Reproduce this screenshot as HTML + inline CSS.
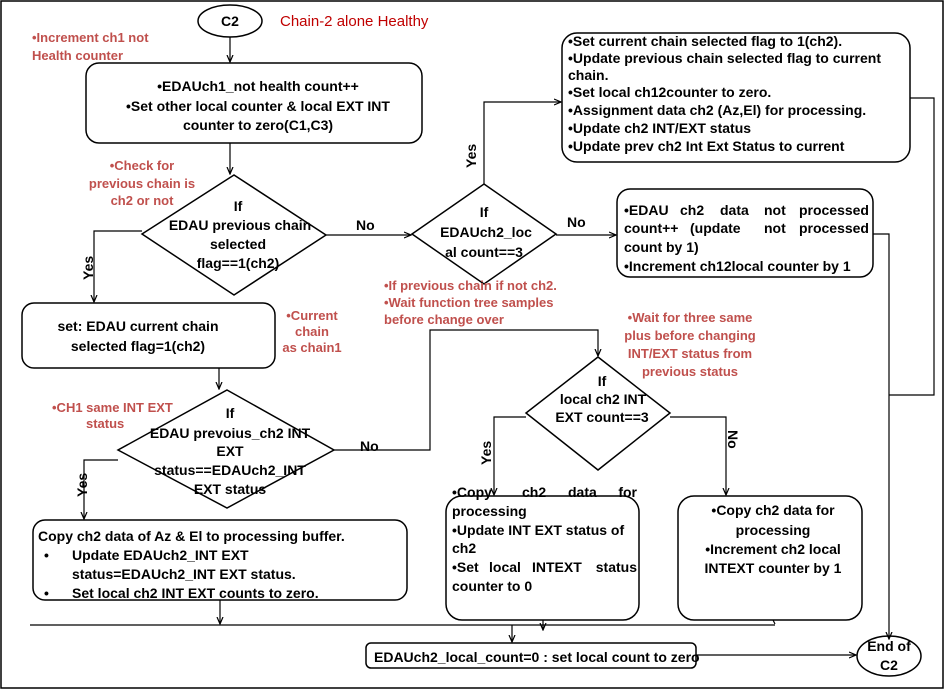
<!DOCTYPE html>
<html><head><meta charset="utf-8"><style>
html,body{margin:0;padding:0;background:#fff}
svg{display:block}
text{font-family:"Liberation Sans",sans-serif;font-size:14px;font-weight:bold;fill:#000}
.r{fill:#c0504d;font-size:13px}
</style></head><body>
<svg width="946" height="691" viewBox="0 0 946 691" xmlns="http://www.w3.org/2000/svg">
<defs><marker id="a" markerWidth="8" markerHeight="8" refX="7" refY="4" orient="auto" markerUnits="userSpaceOnUse"><path d="M0,1 L7,4 L0,7" fill="none" stroke="#000" stroke-width="1.2"/></marker></defs>
<rect x="1" y="1" width="942" height="687" fill="none" stroke="#000" stroke-width="1.5"/>
<g fill="none" stroke="#000" stroke-width="1.5">
<ellipse cx="230" cy="21" rx="32" ry="16"/>
<rect x="86" y="63" width="336" height="80" rx="13"/>
<polygon points="234,175 326,235 234,295 142,234"/>
<polygon points="484,184 556,234 484,284 412,234"/>
<rect x="562" y="33" width="348" height="129" rx="15"/>
<rect x="617" y="189" width="256" height="88" rx="13"/>
<rect x="22" y="303" width="253" height="65" rx="12"/>
<polygon points="227,390 334,450 227,508 118,450"/>
<rect x="33" y="520" width="374" height="80" rx="12"/>
<polygon points="598,357 670,413 598,470 526,413"/>
<rect x="446" y="496" width="193" height="124" rx="16"/>
<rect x="678" y="496" width="184" height="124" rx="16"/>
<rect x="366" y="643" width="330" height="25" rx="5"/>
<ellipse cx="889" cy="656" rx="32" ry="20"/>
</g>
<g fill="none" stroke="#000" stroke-width="1.2">
<path d="M230,37 V62" marker-end="url(#a)"/>
<path d="M230,143 V174" marker-end="url(#a)"/>
<path d="M142,231 H94 V302" marker-end="url(#a)"/>
<path d="M326,235 H411" marker-end="url(#a)"/>
<path d="M484,184 V102 H561" marker-end="url(#a)"/>
<path d="M556,235 H616" marker-end="url(#a)"/>
<path d="M873,234 H889 V639" marker-end="url(#a)"/>
<path d="M910,98 H934 V395 H889"/>
<path d="M219,368 V389" marker-end="url(#a)"/>
<path d="M334,450 H430 V330 H598 V356" marker-end="url(#a)"/>
<path d="M118,460 H84 V519" marker-end="url(#a)"/>
<path d="M526,417 H494 V495" marker-end="url(#a)"/>
<path d="M670,417 H726 V495" marker-end="url(#a)"/>
<path d="M220,600 V624" marker-end="url(#a)"/>
<path d="M543,620 V630" marker-end="url(#a)"/>
<path d="M773,620 L775,624" />
<path d="M30,625 H775"/>
<path d="M512,625 V642" marker-end="url(#a)"/>
<path d="M696,655 H856" marker-end="url(#a)"/>
</g>
<text x="230" y="26" text-anchor="middle">C2</text>
<text x="280" y="26" style="font-size:15px;font-weight:normal;fill:#c00000">Chain-2 alone Healthy</text>
<text class="r" x="32" y="42">•Increment ch1 not</text>
<text class="r" x="32" y="60">Health counter</text>
<g text-anchor="middle">
<text x="258" y="91">•EDAUch1_not health count++</text>
<text x="258" y="111">•Set other local counter &amp; local EXT INT</text>
<text x="258" y="130">counter to zero(C1,C3)</text>
<text class="r" x="142" y="170">•Check for</text>
<text class="r" x="142" y="188">previous chain is</text>
<text class="r" x="142" y="205">ch2 or not</text>
<text x="238" y="211">If</text>
<text x="240" y="230">EDAU previous chain</text>
<text x="238" y="249">selected</text>
<text x="238" y="268">flag==1(ch2)</text>
<text x="484" y="217">If</text>
<text x="486" y="237">EDAUch2_loc</text>
<text x="484" y="257">al count==3</text>
<text x="138" y="331">set: EDAU current chain</text>
<text x="138" y="351">selected flag=1(ch2)</text>
<text class="r" x="312" y="320">•Current</text>
<text class="r" x="312" y="336">chain</text>
<text class="r" x="312" y="352">as chain1</text>
<text x="230" y="418">If</text>
<text x="230" y="438">EDAU prevoius_ch2 INT</text>
<text x="230" y="456">EXT</text>
<text x="230" y="475">status==EDAUch2_INT</text>
<text x="230" y="494">EXT status</text>
<text class="r" x="690" y="322">•Wait for three same</text>
<text class="r" x="690" y="340">plus before changing</text>
<text class="r" x="690" y="358">INT/EXT status from</text>
<text class="r" x="690" y="376">previous status</text>
<text x="602" y="386">If</text>
<text x="603" y="404">local ch2 INT</text>
<text x="602" y="422">EXT count==3</text>
<text x="773" y="515">•Copy ch2 data for</text>
<text x="773" y="535">processing</text>
<text x="773" y="554">•Increment ch2 local</text>
<text x="773" y="573">INTEXT  counter by 1</text>
<text x="889" y="651">End of</text>
<text x="889" y="670">C2</text>
</g>
<text x="568" y="46">•Set current chain selected flag to 1(ch2).</text>
<text x="568" y="63">•Update previous chain selected flag to current</text>
<text x="568" y="80">chain.</text>
<text x="568" y="97">•Set local ch12counter to zero.</text>
<text x="568" y="115">•Assignment data ch2 (Az,El) for  processing.</text>
<text x="568" y="133">•Update ch2 INT/EXT status</text>
<text x="568" y="151">•Update  prev ch2 Int Ext Status to current</text>
<text y="215"><tspan x="624">•EDAU</tspan><tspan x="680">ch2</tspan><tspan x="720">data</tspan><tspan x="764">not</tspan></text>
<text x="869" y="215" text-anchor="end">processed</text>
<text y="233"><tspan x="624">count++</tspan><tspan x="690">(update</tspan><tspan x="764">not</tspan></text>
<text x="869" y="233" text-anchor="end">processed</text>
<text x="624" y="252">count by 1)</text>
<text x="624" y="271">•Increment ch12local counter by 1</text>
<text x="356" y="230">No</text>
<text x="567" y="227">No</text>
<text x="360" y="451">No</text>
<text transform="translate(93,280) rotate(-90)">Yes</text>
<text transform="translate(476,168) rotate(-90)">Yes</text>
<text transform="translate(87,497) rotate(-90)">Yes</text>
<text transform="translate(491,465) rotate(-90)">Yes</text>
<text transform="translate(728,430) rotate(90)">No</text>
<text class="r" x="384" y="290">•If previous chain if not ch2.</text>
<text class="r" x="384" y="307">•Wait function tree samples</text>
<text class="r" x="384" y="324">before change over</text>
<text class="r" x="52" y="412">•CH1 same INT EXT</text>
<text class="r" x="86" y="428">status</text>
<text x="38" y="541">Copy ch2 data of Az &amp; El to processing buffer.</text>
<text x="44" y="560">•</text><text x="72" y="560">Update EDAUch2_INT EXT</text>
<text x="72" y="579">status=EDAUch2_INT EXT status.</text>
<text x="44" y="598">•</text><text x="72" y="598">Set local ch2 INT EXT counts to zero.</text>
<text y="497"><tspan x="452">•Copy</tspan><tspan x="522">ch2</tspan><tspan x="568">data</tspan></text>
<text x="637" y="497" text-anchor="end">for</text>
<text x="452" y="516">processing</text>
<text x="452" y="535">•Update INT EXT status of</text>
<text x="452" y="553">ch2</text>
<text y="572"><tspan x="452">•Set</tspan><tspan x="489">local</tspan><tspan x="532">INTEXT</tspan></text>
<text x="637" y="572" text-anchor="end">status</text>
<text x="452" y="591">counter to 0</text>
<text x="374" y="662">EDAUch2_local_count=0 : set local count to zero</text>
</svg>
</body></html>
